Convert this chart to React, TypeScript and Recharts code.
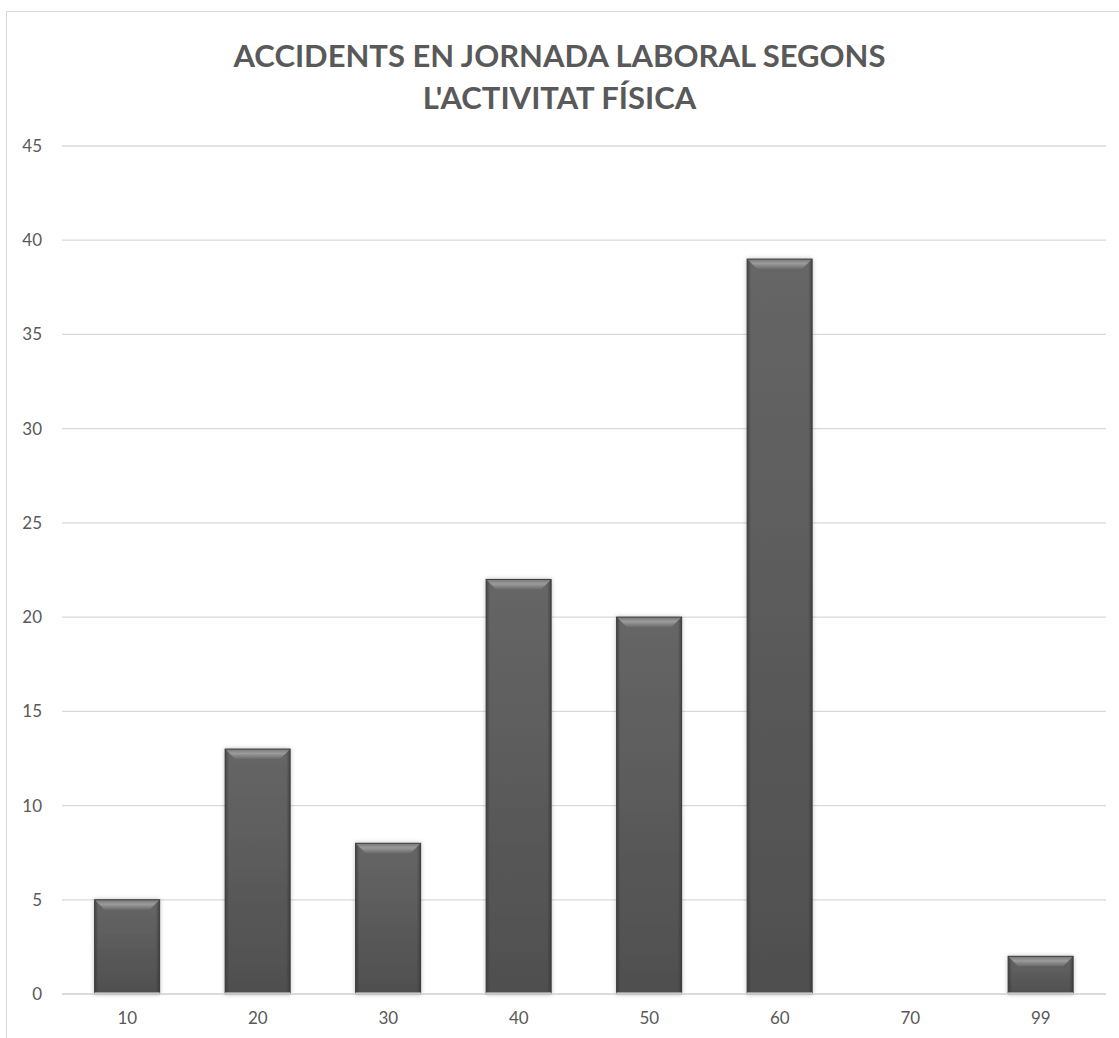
import React from "react"
import { Bar, BarChart, CartesianGrid, XAxis, YAxis } from "recharts"

const categories = ["10", "20", "30", "40", "50", "60", "70", "99"]
const accidents = [5, 13, 8, 22, 20, 39, 0, 2]
const yTicks = [0, 5, 10, 15, 20, 25, 30, 35, 40, 45]

const data = categories.map((c, i) => ({ activitat: c, accidents: accidents[i] }))

const font = "Lato, 'Open Sans', sans-serif"
const grey = "#595959"

const BevelBar = (props: any) => {
    const { x, y, width, height } = props
    if (!height || height <= 0) return null
    const b = Math.min(10, height / 2)
    return (
        <g filter="url(#barShadow)">
            <rect x={x} y={y} width={width} height={height} fill="url(#barBody)" />
            <rect x={x} y={y} width={width} height={height} fill="url(#barSides)" />
            <polygon
                points={`${x},${y} ${x + width},${y} ${x + width - b},${y + b} ${x + b},${y + b}`}
                fill="url(#barTop)"
            />
            <rect x={x} y={y} width={width} height={height} fill="none" stroke="#3d3d3d" strokeWidth={1} />
            <line x1={x} x2={x + width} y1={y + height - 1} y2={y + height - 1} stroke="#9a9a9a" strokeWidth={2} />
        </g>
    )
}

const App = () => (
    <div style={{ position: "absolute", left: 0, top: 0, width: 1119, height: 1038, overflow: "hidden", background: "#fff" }}>
        <div style={{ position: "absolute", left: 6, top: 11, width: 1140, height: 1060, border: "1px solid #d9d9d9" }} />
        <div
            style={{
                position: "absolute", left: 0, top: 34, width: 1119, textAlign: "center",
                fontFamily: font, fontWeight: 700, fontSize: 31, lineHeight: "42px", color: grey,
            }}
        >
            ACCIDENTS EN JORNADA LABORAL SEGONS
            <br />
            L'ACTIVITAT FÍSICA
        </div>
        <div style={{ position: "absolute", left: 0, top: 0 }}>
            <BarChart
                data={data}
                width={1119}
                height={1038}
                margin={{ top: 146, right: 13, bottom: 14, left: 0 }}
                barCategoryGap="25%"
            >
                <defs>
                    <linearGradient id="barBody" x1="0" y1="0" x2="0" y2="1">
                        <stop offset="0%" stopColor="#666666" />
                        <stop offset="100%" stopColor="#4f4f4f" />
                    </linearGradient>
                    <linearGradient id="barSides" x1="0" y1="0" x2="1" y2="0">
                        <stop offset="0%" stopColor="#303030" stopOpacity={0.6} />
                        <stop offset="6%" stopColor="#303030" stopOpacity={0} />
                        <stop offset="94%" stopColor="#303030" stopOpacity={0} />
                        <stop offset="100%" stopColor="#303030" stopOpacity={0.6} />
                    </linearGradient>
                    <linearGradient id="barTop" x1="0" y1="0" x2="0" y2="1">
                        <stop offset="0%" stopColor="#777777" />
                        <stop offset="45%" stopColor="#9b9b9b" />
                        <stop offset="100%" stopColor="#6a6a6a" />
                    </linearGradient>
                    <filter id="barShadow" x="-20%" y="-20%" width="140%" height="140%">
                        <feDropShadow dx="0" dy="0" stdDeviation="2" floodColor="#000" floodOpacity={0.25} />
                    </filter>
                </defs>
                <CartesianGrid vertical={false} stroke="#d9d9d9" strokeWidth={1.3} />
                <XAxis
                    dataKey="activitat"
                    height={30}
                    axisLine={{ stroke: "#d9d9d9", strokeWidth: 1.3 }}
                    tickLine={false}
                    tickSize={0}
                    tickMargin={18}
                    tick={{ fill: grey, fontSize: 17, fontFamily: font }}
                />
                <YAxis
                    width={62}
                    domain={[0, 45]}
                    ticks={yTicks}
                    interval={0}
                    axisLine={false}
                    tickLine={false}
                    tickSize={0}
                    tickMargin={20}
                    tick={{ fill: grey, fontSize: 17, fontFamily: font }}
                />
                <Bar dataKey="accidents" shape={BevelBar} isAnimationActive={false} />
            </BarChart>
        </div>
    </div>
)

export default App
